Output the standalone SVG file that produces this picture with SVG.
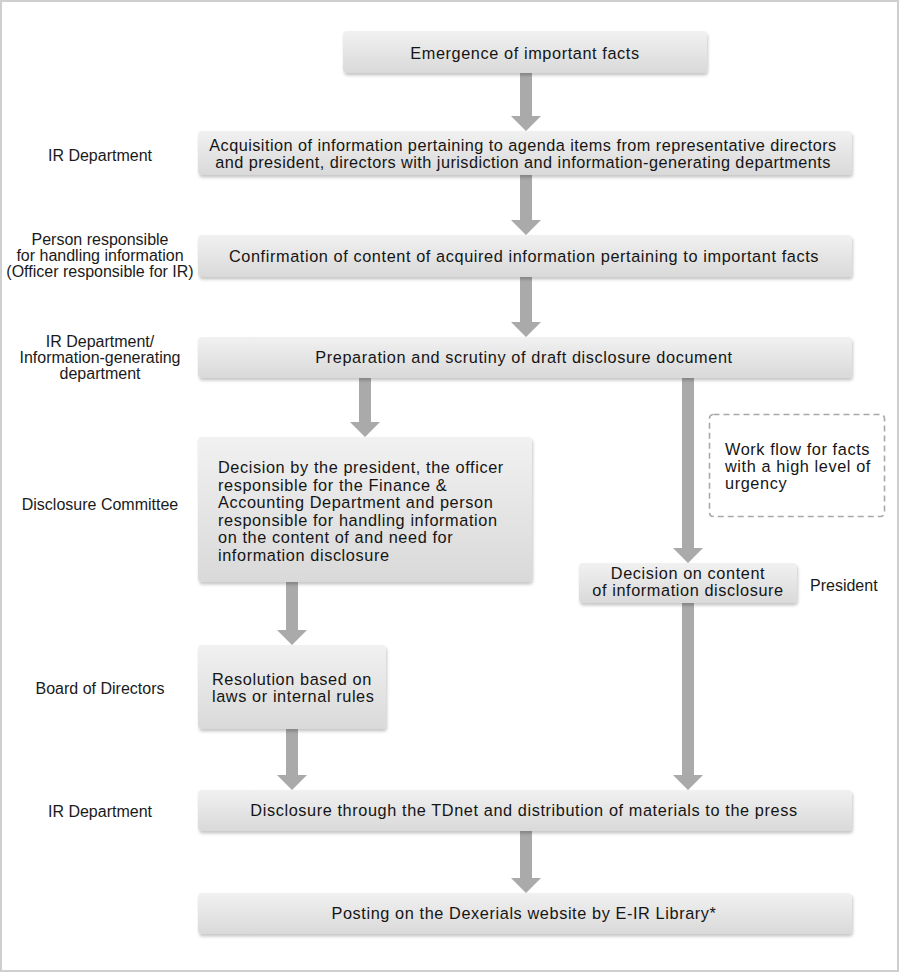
<svg xmlns="http://www.w3.org/2000/svg" width="900" height="973" viewBox="0 0 900 973">
<defs>
<linearGradient id="bg" x1="0" y1="0" x2="0" y2="1">
<stop offset="0" stop-color="#f1f1f1"/>
<stop offset="1" stop-color="#d9d9d9"/>
</linearGradient>
<filter id="sh" x="-10%" y="-20%" width="120%" height="150%">
<feDropShadow dx="1" dy="2.5" stdDeviation="1.8" flood-color="#000" flood-opacity="0.22"/>
</filter>
</defs>
<style>
.box{fill:url(#bg);filter:url(#sh);}
.t{font-family:"Liberation Sans",Arial,sans-serif;font-size:16.3px;letter-spacing:0.6px;fill:#151515;}
.c{text-anchor:middle;}
.w{letter-spacing:0.45px;}
.lbl{font-family:"Liberation Sans",Arial,sans-serif;font-size:16px;fill:#1a1a1a;text-anchor:middle;}
.lft{text-anchor:start;}
.arr{fill:#aaaaaa;}
.dash{fill:none;stroke:#a8a8a8;stroke-width:1.6;stroke-dasharray:6 4;}
</style>
<rect x="1" y="1" width="897" height="970" fill="#ffffff" stroke="#cfcfcf" stroke-width="2"/>

<g id="connectors">
<polygon class="arr" points="520,73 532,73 532,116 541,116 526,131 511,116 520,116"/>
<polygon class="arr" points="520,175 532,175 532,220 541,220 526,235 511,220 520,220"/>
<polygon class="arr" points="520,277 532,277 532,322 541,322 526,337 511,322 520,322"/>
<polygon class="arr" points="359,378 371,378 371,422 380,422 365,437 350,422 359,422"/>
<polygon class="arr" points="682,378 694,378 694,548 703,548 688,563 673,548 682,548"/>
<polygon class="arr" points="286,582 298,582 298,630 307,630 292,645 277,630 286,630"/>
<polygon class="arr" points="286,729 298,729 298,775 307,775 292,790 277,775 286,775"/>
<polygon class="arr" points="682,603 694,603 694,775 703,775 688,790 673,775 682,775"/>
<polygon class="arr" points="520,831 532,831 532,878 541,878 526,893 511,878 520,878"/>
</g>

<g id="n1">
<rect class="box" x="343" y="31" width="364" height="42" rx="4"/>
<text class="t c" x="525" y="59">Emergence of important facts</text>
</g>
<g id="n2">
<rect class="box" x="198" y="131" width="654" height="44" rx="4"/>
<text class="t c w" x="523" y="151">Acquisition of information pertaining to agenda items from representative directors</text>
<text class="t c w" x="523" y="168">and president, directors with jurisdiction and information-generating departments</text>
</g>
<g id="n3">
<rect class="box" x="198" y="235" width="654" height="42" rx="4"/>
<text class="t c" x="524" y="262">Confirmation of content of acquired information pertaining to important facts</text>
</g>
<g id="n4">
<rect class="box" x="198" y="337" width="654" height="41" rx="4"/>
<text class="t c" x="524" y="363">Preparation and scrutiny of draft disclosure document</text>
</g>
<g id="n5">
<rect class="box" x="198" y="437" width="334" height="145" rx="4"/>
<text class="t" x="218" y="473">Decision by the president, the officer</text>
<text class="t" x="218" y="490.5">responsible for the Finance &amp;</text>
<text class="t" x="218" y="508">Accounting Department and person</text>
<text class="t" x="218" y="525.5">responsible for handling information</text>
<text class="t" x="218" y="543">on the content of and need for</text>
<text class="t" x="218" y="560.5">information disclosure</text>
</g>
<g id="n6">
<rect class="box" x="579" y="563" width="218" height="40" rx="4"/>
<text class="t c" x="688" y="579">Decision on content</text>
<text class="t c" x="688" y="596">of information disclosure</text>
</g>
<g id="n7">
<rect class="box" x="198" y="645" width="188" height="84" rx="4"/>
<text class="t" x="212" y="685">Resolution based on</text>
<text class="t" x="212" y="702">laws or internal rules</text>
</g>
<g id="n8">
<rect class="box" x="198" y="790" width="654" height="41" rx="4"/>
<text class="t c" x="524" y="816">Disclosure through the TDnet and distribution of materials to the press</text>
</g>
<g id="n9">
<rect class="box" x="198" y="893" width="654" height="41" rx="4"/>
<text class="t c" x="524" y="919">Posting on the Dexerials website by E-IR Library*</text>
</g>
<g id="urgent">
<rect class="dash" x="709.5" y="414.5" width="175" height="102" rx="4"/>
<text class="t" x="725" y="455">Work flow for facts</text>
<text class="t" x="725" y="472">with a high level of</text>
<text class="t" x="725" y="489">urgency</text>
</g>

<g id="labels">
<text class="lbl" x="100" y="161">IR Department</text>
<text class="lbl" x="100" y="245">Person responsible</text>
<text class="lbl" x="100" y="261">for handling information</text>
<text class="lbl" x="100" y="277">(Officer responsible for IR)</text>
<text class="lbl" x="100" y="347">IR Department/</text>
<text class="lbl" x="100" y="363">Information-generating</text>
<text class="lbl" x="100" y="379">department</text>
<text class="lbl" x="100" y="510">Disclosure Committee</text>
<text class="lbl" x="100" y="694">Board of Directors</text>
<text class="lbl" x="100" y="817">IR Department</text>
<text class="lbl lft" x="810" y="591">President</text>
</g>
</svg>
